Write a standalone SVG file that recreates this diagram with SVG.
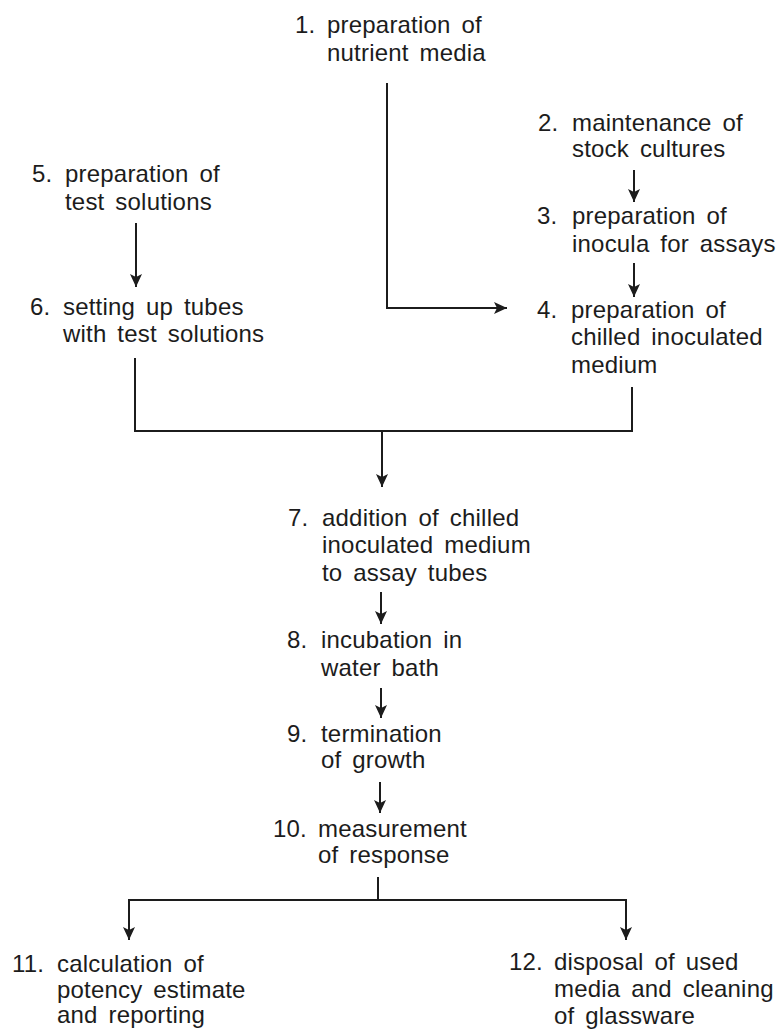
<svg xmlns="http://www.w3.org/2000/svg" width="777" height="1030" viewBox="0 0 777 1030">
<style>
text{font-family:"Liberation Sans",Arial,sans-serif;font-size:24px;fill:#1c1c1c;letter-spacing:0.2px;word-spacing:4px}
.c{fill:none;stroke:#1c1c1c;stroke-width:2}
</style>
<defs>
<marker id="ah" markerUnits="userSpaceOnUse" markerWidth="13" markerHeight="12" refX="13" refY="6" orient="auto">
<path d="M0,0 L13,6 L0,12 L3,6 z" fill="#1c1c1c"/>
</marker>
</defs>
<rect width="777" height="1030" fill="#ffffff"/>
<g id="connectors">
<path class="c" d="M387,83 V308 H507" marker-end="url(#ah)"/>
<path class="c" d="M634,170 V202" marker-end="url(#ah)"/>
<path class="c" d="M634,263 V297" marker-end="url(#ah)"/>
<path class="c" d="M136,223 V287" marker-end="url(#ah)"/>
<path class="c" d="M135,358 V431 H632 V387"/>
<path class="c" d="M382,431 V487" marker-end="url(#ah)"/>
<path class="c" d="M381,592 V624" marker-end="url(#ah)"/>
<path class="c" d="M381,688 V718" marker-end="url(#ah)"/>
<path class="c" d="M380,782 V813" marker-end="url(#ah)"/>
<path class="c" d="M378,877 V900"/>
<path class="c" d="M378,900 H129 V940" marker-end="url(#ah)"/>
<path class="c" d="M378,900 H626 V940" marker-end="url(#ah)"/>
</g>
<g id="node1"><text x="295" y="33">1.</text><text x="327" y="33">preparation of</text><text x="327" y="61">nutrient media</text></g>
<g id="node2"><text x="538" y="131">2.</text><text x="572" y="131">maintenance of</text><text x="572" y="157">stock cultures</text></g>
<g id="node3"><text x="537" y="224">3.</text><text x="572" y="224">preparation of</text><text x="572" y="252">inocula for assays</text></g>
<g id="node4"><text x="537" y="318">4.</text><text x="571" y="318">preparation of</text><text x="571" y="345">chilled inoculated</text><text x="571" y="373">medium</text></g>
<g id="node5"><text x="32" y="182">5.</text><text x="65" y="182">preparation of</text><text x="65" y="210">test solutions</text></g>
<g id="node6"><text x="30" y="315">6.</text><text x="63" y="315">setting up tubes</text><text x="63" y="342">with test solutions</text></g>
<g id="node7"><text x="288" y="526">7.</text><text x="322" y="526">addition of chilled</text><text x="322" y="553">inoculated medium</text><text x="322" y="581">to assay tubes</text></g>
<g id="node8"><text x="287" y="648">8.</text><text x="321" y="648">incubation in</text><text x="321" y="676">water bath</text></g>
<g id="node9"><text x="287" y="742">9.</text><text x="321" y="742">termination</text><text x="321" y="768">of growth</text></g>
<g id="node10"><text x="273" y="837">10.</text><text x="318" y="837">measurement</text><text x="318" y="863">of response</text></g>
<g id="node11"><text x="12" y="972">11.</text><text x="57" y="972">calculation of</text><text x="57" y="998">potency estimate</text><text x="57" y="1023">and reporting</text></g>
<g id="node12"><text x="509" y="970">12.</text><text x="554" y="970">disposal of used</text><text x="554" y="997">media and cleaning</text><text x="554" y="1024">of glassware</text></g>
</svg>
